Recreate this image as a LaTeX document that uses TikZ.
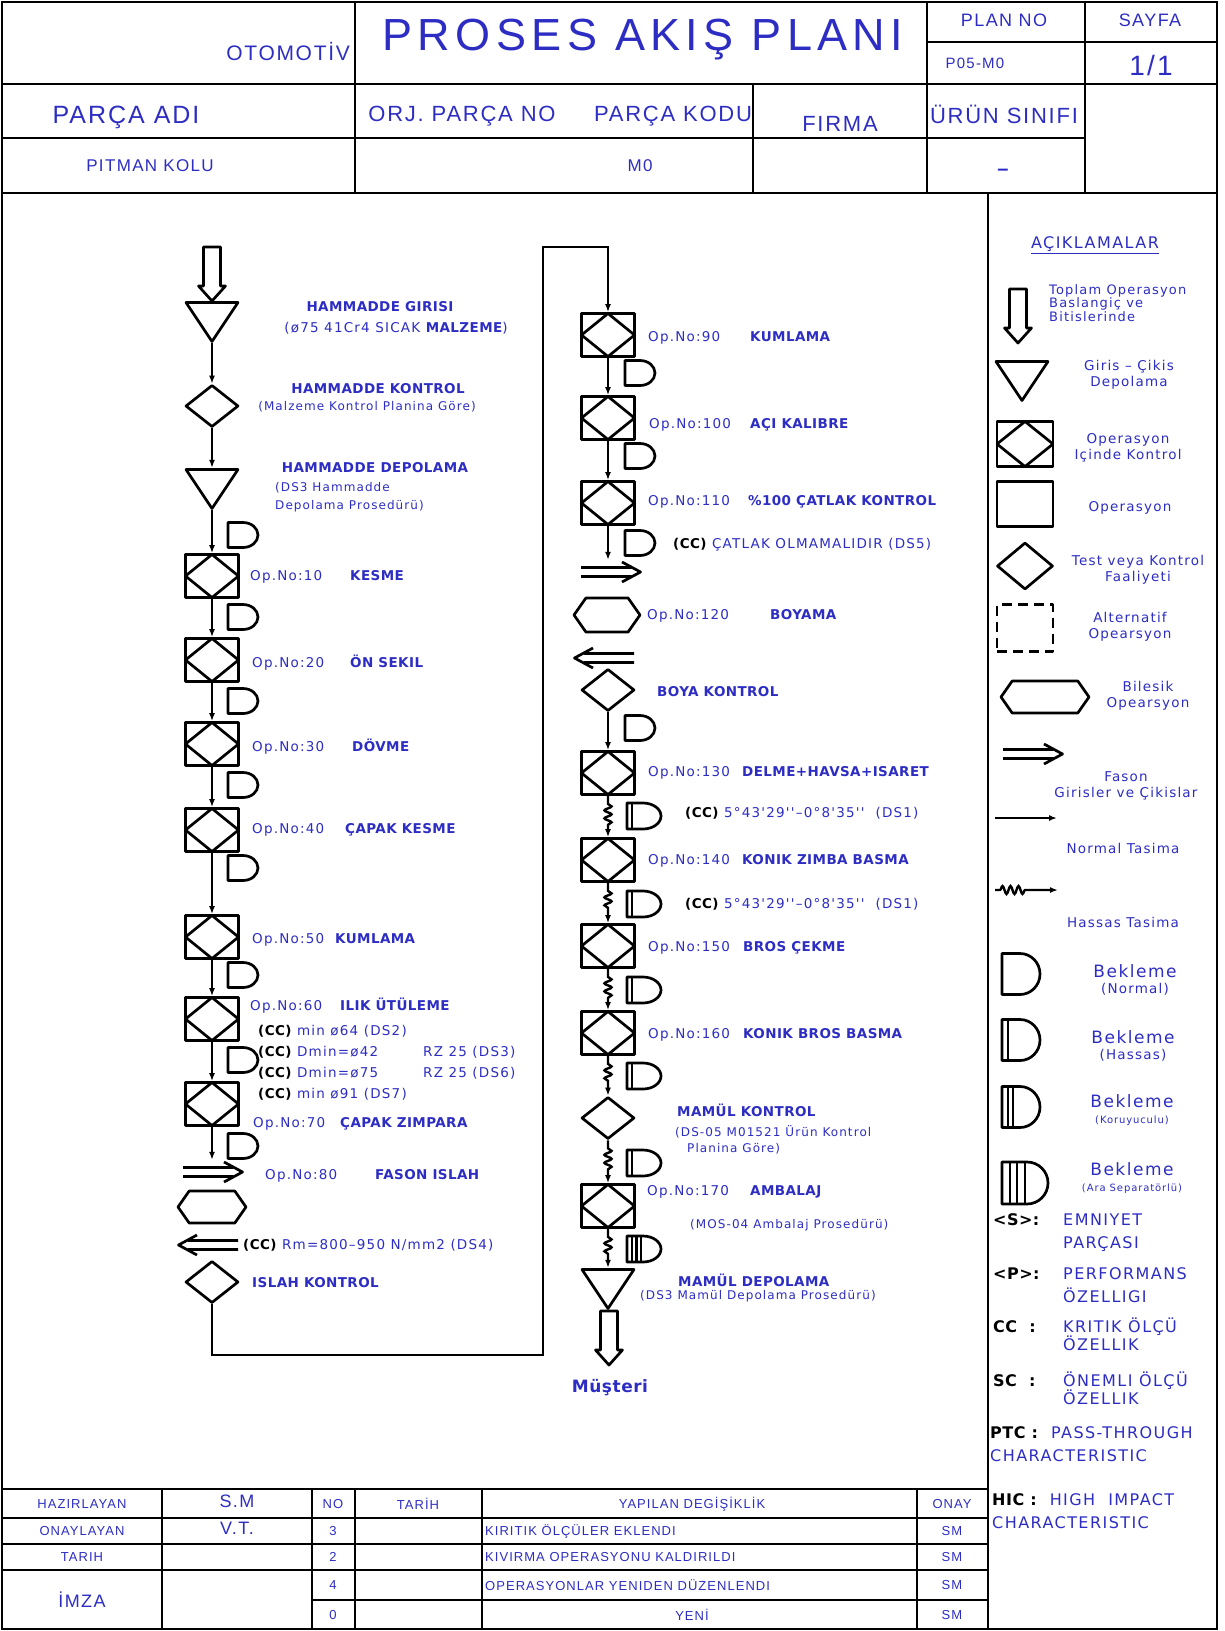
\documentclass[tikz,border=0pt]{standalone}
\usepackage{fontspec}
\setmainfont{DejaVu Sans}
\newfontfamily\cadfont[LetterSpace=9, BoldFeatures={LetterSpace=3}]{DejaVu Sans}
\newfontfamily\hdrfont[LetterSpace=8]{Liberation Sans}
\usetikzlibrary{positioning,arrows.meta,shapes.geometric,decorations.pathmorphing}
\definecolor{cadblue}{RGB}{45,45,195}
\newcommand{\fl}{\cadfont\fontsize{13.5}{16}\selectfont}
\newcommand{\fs}{\cadfont\fontsize{12}{18}\selectfont}
\newcommand{\hsz}[1]{\hdrfont\fontsize{#1}{#1}\selectfont}
\newcommand{\opno}[2]{\makebox[#1pt][l]{Op.No:#2}\bfseries}
\newcommand{\CC}{{\color{black}\bfseries(CC)}}
\newcommand{\keyw}[1]{\makebox[70pt][l]{\color{black}\bfseries #1}}

\begin{document}
\begin{tikzpicture}[x=1pt, y=1pt,
  >={Latex[length=8pt,width=6pt]},
  shp/.style={line width=2.7pt, line join=round},
  frame/.style={line width=2.4pt},
  tline/.style={line width=1.8pt},
  flow/.style={line width=2.4pt, ->},
  hassas/.style={flow, decorate, decoration={snake, amplitude=3.5pt, segment length=8pt, pre length=8pt, post length=12pt}},
  opbox/.style={draw, shp, inner sep=0, minimum width=53, minimum height=43,
    path picture={\draw[shp] (path picture bounding box.north) -- (path picture bounding box.east) -- (path picture bounding box.south) -- (path picture bounding box.west) -- cycle;}},
  ctrl/.style={diamond, draw, shp, inner sep=0, minimum width=53, minimum height=42},
  store/.style={inner sep=0, minimum width=55, minimum height=42,
    path picture={\draw[shp, shift={(path picture bounding box.center)}] (-26,19.5) -- (26,19.5) -- (0,-19.5) -- cycle;}},
  hollow/.style={inner sep=0, minimum width=30, minimum height=57,
    path picture={\draw[shp, shift={(path picture bounding box.center)}] (-8.5,27) -- (8.5,27) -- (8.5,-12) -- (13.5,-12) -- (0,-27) -- (-13.5,-12) -- (-8.5,-12) -- cycle;}},
  fason/.style={inner sep=0, minimum width=64, minimum height=24,
    path picture={\draw[shp, shift={(path picture bounding box.center)}] ({-30*#1},4.5) -- ({20*#1},4.5) ({-30*#1},-4.5) -- ({20*#1},-4.5) ({11*#1},10) -- ({29.5*#1},0) -- ({11*#1},-10);}},
  hexa/.style 2 args={inner sep=0, minimum width={2*#1+3}, minimum height={2*#2+3},
    path picture={\draw[shp, shift={(path picture bounding box.center)}] (-#1,0) -- ({-#1+0.7*#2},#2) -- ({#1-0.7*#2},#2) -- (#1,0) -- ({#1-0.7*#2},-#2) -- ({-#1+0.7*#2},-#2) -- cycle;}},
  waitsym/.style n args={4}{inner sep=0, minimum width={2*#1+3}, minimum height={2*#2+3},
    path picture={\draw[shp, shift={(path picture bounding box.center)}] (-#1,#2) -- ({#1-#3},#2) arc[start angle=90, end angle=-90, x radius=#3, y radius=#2] -- (-#1,-#2) -- cycle;
      \foreach \b in {#4} {\draw[shp, shift={(path picture bounding box.center)}] (\b,#2) -- (\b,-#2);}}},
  waitn/.style={waitsym={15}{12.5}{15}{-15}},
  waith/.style={waitsym={17}{13}{18}{-12}},
  waita/.style={waitsym={17}{13}{18}{-12,-7.5,-3}},
  lbl/.style={font=\fl, text=cadblue, inner sep=0, anchor=west},
  lblc/.style={lbl, anchor=center},
  note/.style={lbl, font=\fs, align=left},
  htxt/.style={text=cadblue, inner sep=0},
  lgt/.style={font=\cadfont\fontsize{13.5}{16}\selectfont, text=cadblue, inner sep=0, align=center},
  keyt/.style={font=\cadfont\fontsize{16}{23}\selectfont, text=cadblue, inner sep=0, align=left, anchor=west}
]
\useasboundingbox (0,0) rectangle (1224,-1631);

% frame and title block
\draw[frame] (2,-2) rectangle (1217,-1629);
\draw[frame] (2,-84) -- (1217,-84);
\draw[frame] (927,-42) -- (1217,-42);
\draw[frame] (2,-138) -- (1085,-138);
\draw[frame] (2,-193) -- (1217,-193);
\draw[frame] (355,-2) -- (355,-193);
\draw[frame] (927,-2) -- (927,-193);
\draw[frame] (1085,-2) -- (1085,-193);
\draw[frame] (753,-84) -- (753,-193);
\draw[frame] (988,-193) -- (988,-1629);

\node[htxt, anchor=east] (hoto) at (350,-51) {\hsz{21}OTOMOTİV};
\node[htxt] (htitle) at (643,-40) {\hsz{45}\addfontfeature{LetterSpace=12}PROSES AKIŞ PLANI};
\node[htxt] (hplan) at (1004,-20) {\hsz{18}PLAN NO};
\node[htxt] (hsayfa) at (1150,-20) {\hsz{18}SAYFA};
\node[htxt] (hplanno) at (975,-63) {\hsz{15}P05-M0};
\node[htxt] (hpage) at (1151,-65) {\hsz{28}1/1};
\node[htxt] (hparca) at (126,-117) {\hsz{25}PARÇA ADI};
\node[htxt] (horj) at (462,-116) {\hsz{22}ORJ. PARÇA NO};
\node[htxt] (hkod) at (673,-116) {\hsz{22}PARÇA KODU};
\node[htxt] (hfirma) at (840,-124) {\hsz{22}FIRMA};
\node[htxt] (hsinif) at (1004,-114) {\hsz{22}ÜRÜN SINIFI};
\node[htxt] (hname) at (150,-166) {\hsz{17}PITMAN KOLU};
\node[htxt] (hcode) at (640,-166) {\hsz{17}M0};
\node[htxt] (hclass) at (1003,-172) {\hsz{20}\bfseries –};

% left column
\node[hollow] (start) at (212,-274) {};
\node[store] (in1) at (212,-322) {};
\node[ctrl] (qc1) at (212,-406) {};
\node[store] (st1) at (212,-489) {};
\node[waitn] (w0) at (243,-535) {};
\node[opbox] (op10) at (212,-576) {};
\node[waitn] (w10) at (243,-617) {};
\node[opbox] (op20) at (212,-660) {};
\node[waitn] (w20) at (243,-701) {};
\node[opbox] (op30) at (212,-744) {};
\node[waitn] (w30) at (243,-785) {};
\node[opbox] (op40) at (212,-830) {};
\node[waitn] (w40) at (243,-868) {};
\node[opbox] (op50) at (212,-937) {};
\node[waitn] (w50) at (243,-975) {};
\node[opbox] (op60) at (212,-1019) {};
\node[waitn] (w60) at (243,-1060) {};
\node[opbox] (op70) at (212,-1104) {};
\node[waitn] (w70) at (243,-1146) {};
\node[fason=1] (fs1) at (213,-1172) {};
\node[hexa={34}{16}] (hx1) at (212,-1207) {};
\node[fason=-1] (fs2) at (208,-1245) {};
\node[ctrl] (qc2) at (212,-1282) {};

\draw[flow] (in1.south) -- (qc1.north);
\draw[flow] (qc1.south) -- (st1.north);
\draw[flow] (st1.south) -- (op10.north);
\draw[flow] (op10) -- (op20);
\draw[flow] (op20) -- (op30);
\draw[flow] (op30) -- (op40);
\draw[flow] (op40) -- (op50);
\draw[flow] (op50) -- (op60);
\draw[flow] (op60) -- (op70);
\draw[flow] (op70.south) -- (op70.south |- fs1.north);

\node[lblc, font=\fl\bfseries] (l1a) at (380,-307) {HAMMADDE GIRISI};
\node[lblc] (l1b) at (396,-328) {(ø75 41Cr4 SICAK {\bfseries MALZEME})};
\node[lblc, font=\fl\bfseries] (l2a) at (378,-389) {HAMMADDE KONTROL};
\node[lblc, font=\fs] (l2b) at (367,-407) {(Malzeme Kontrol Planina Göre)};
\node[lblc, font=\fl\bfseries] (l3a) at (375,-468) {HAMMADDE DEPOLAMA};
\node[note] (l3b) at (275,-497) {(DS3 Hammadde\\Depolama Prosedürü)};
\node[lbl] (t10) at (250,-577) {\opno{100}{10}KESME};
\node[lbl] (t20) at (252,-663) {\opno{98}{20}ÖN SEKIL};
\node[lbl] (t30) at (252,-747) {\opno{100}{30}DÖVME};
\node[lbl] (t40) at (252,-830) {\opno{93}{40}ÇAPAK KESME};
\node[lbl] (t50) at (252,-940) {\opno{83}{50}KUMLAMA};
\node[lbl] (t60) at (250,-1006) {\opno{90}{60}ILIK ÜTÜLEME};
\node[lbl, align=left, font=\cadfont\fontsize{13.5}{21}\selectfont] (c60) at (258,-1063) {\CC{} min ø64 (DS2)\\
  \makebox[165pt][l]{\CC{} Dmin=ø42}RZ 25 (DS3)\\
  \makebox[165pt][l]{\CC{} Dmin=ø75}RZ 25 (DS6)\\
  \CC{} min ø91 (DS7)};
\node[lbl] (t70) at (253,-1124) {\opno{87}{70}ÇAPAK ZIMPARA};
\node[lbl] (t80) at (265,-1176) {\opno{110}{80}FASON ISLAH};
\node[lbl] (c80) at (243,-1245) {\CC{} Rm=800–950 N/mm2 (DS4)};
\node[lbl, font=\fl\bfseries] (t85) at (252,-1283) {ISLAH KONTROL};

% middle column
\node[opbox] (op90) at (608,-335) {};
\node[waitn] (w90) at (640,-373) {};
\node[opbox] (op100) at (608,-418) {};
\node[waitn] (w100) at (640,-456) {};
\node[opbox] (op110) at (608,-503) {};
\node[waitn] (w110) at (640,-543) {};
\node[fason=1] (fs3) at (611,-572) {};
\node[hexa={33}{17}] (hx2) at (607,-615) {};
\node[fason=-1] (fs4) at (604,-658) {};
\node[ctrl] (qc3) at (608,-690) {};
\node[waitn] (w120) at (640,-728) {};
\node[opbox] (op130) at (608,-773) {};
\node[waith] (w130) at (644,-816) {};
\node[opbox] (op140) at (608,-860) {};
\node[waith] (w140) at (644,-904) {};
\node[opbox] (op150) at (608,-946) {};
\node[waith] (w150) at (644,-990) {};
\node[opbox] (op160) at (608,-1033) {};
\node[waith] (w160) at (644,-1076) {};
\node[ctrl] (qc4) at (608,-1118) {};
\node[waith] (w165) at (644,-1163) {};
\node[opbox] (op170) at (608,-1206) {};
\node[waita] (w170) at (644,-1249) {};
\node[store] (st2) at (608,-1289) {};
\node[hollow] (finish) at (609,-1338) {};
\node[text=cadblue, font=\cadfont\bfseries\fontsize{17}{17}\selectfont] (cust) at (610,-1388) {Müşteri};

% transfer to second column
\coordinate (lowturn) at (543,-1355);
\coordinate (highturn) at (543,-247);
\draw[flow] (qc2.south) |- (lowturn) -- (highturn) -| (op90.north);

\draw[flow] (op90) -- (op100);
\draw[flow] (op100) -- (op110);
\draw[flow] (op110.south) -- (op110.south |- fs3.north);
\draw[flow] (qc3.south) -- (op130.north);
\draw[hassas] (op130) -- (op140);
\draw[hassas] (op140) -- (op150);
\draw[hassas] (op150) -- (op160);
\draw[hassas] (op160.south) -- (qc4.north);
\draw[hassas] (qc4.south) -- (op170.north);
\draw[hassas] (op170.south) -- (st2.north);

\node[lbl] (t90) at (648,-338) {\opno{102}{90}KUMLAMA};
\node[lbl] (t100) at (649,-425) {\opno{101}{100}AÇI KALIBRE};
\node[lbl] (t110) at (648,-502) {\opno{100}{110}\%100 ÇATLAK KONTROL};
\node[lbl] (c110) at (673,-545) {\CC{} ÇATLAK OLMAMALIDIR (DS5)};
\node[lbl] (t120) at (647,-616) {\opno{123}{120}BOYAMA};
\node[lbl, font=\fl\bfseries] (t125) at (657,-692) {BOYA KONTROL};
\node[lbl] (t130) at (648,-773) {\opno{94}{130}DELME+HAVSA+ISARET};
\node[lbl] (c130) at (685,-813) {\CC{} 5°43'29''–0°8'35''\ \ (DS1)};
\node[lbl] (t140) at (648,-861) {\opno{94}{140}KONIK ZIMBA BASMA};
\node[lbl] (c140) at (685,-904) {\CC{} 5°43'29''–0°8'35''\ \ (DS1)};
\node[lbl] (t150) at (648,-948) {\opno{95}{150}BROS ÇEKME};
\node[lbl] (t160) at (648,-1035) {\opno{95}{160}KONIK BROS BASMA};
\node[lbl, font=\fl\bfseries] (t165) at (677,-1110) {MAMÜL KONTROL};
\node[note, font=\cadfont\fontsize{12}{16}\selectfont] (n165) at (675,-1140) {(DS-05 M01521 Ürün Kontrol\\\hspace*{12pt}Planina Göre)};
\node[lbl] (t170) at (647,-1192) {\opno{103}{170}AMBALAJ};
\node[lbl, font=\fs] (n170) at (690,-1225) {(MOS-04 Ambalaj Prosedürü)};
\node[lbl, font=\fl\bfseries] (t175) at (678,-1280) {MAMÜL DEPOLAMA};
\node[lbl, font=\fs] (n175) at (640,-1296) {(DS3 Mamül Depolama Prosedürü)};

% legend
\node[text=cadblue, font=\cadfont\fontsize{16}{16}\selectfont] (lgtitle) at (1095,-245) {\underline{AÇIKLAMALAR}};
\node[hollow] (lg1) at (1018,-316) {};
\node[lgt, align=left, anchor=west, font=\cadfont\fontsize{13}{12.5}\selectfont] (lg1t) at (1049,-303) {Toplam Operasyon\\Baslangiç ve\\Bitislerinde};
\node[store, minimum width=57, minimum height=45] (lg2) at (1022,-381) {};
\node[lgt] (lg2t) at (1129,-375) {Giris – Çikis\\Depolama};
\node[opbox, minimum width=56, minimum height=45] (lg3) at (1025,-444) {};
\node[lgt] (lg3t) at (1128,-448) {Operasyon\\Içinde Kontrol};
\node[draw, shp, minimum width=56, minimum height=45] (lg4) at (1025,-504) {};
\node[lgt] (lg4t) at (1130,-508) {Operasyon};
\node[ctrl, minimum width=56, minimum height=47] (lg5) at (1025,-566) {};
\node[lgt] (lg5t) at (1138,-570) {Test veya Kontrol\\Faaliyeti};
\node[draw, shp, dash pattern=on 10pt off 6pt, minimum width=56, minimum height=47] (lg6) at (1025,-628) {};
\node[lgt] (lg6t) at (1130,-627) {Alternatif\\Opearsyon};
\node[hexa={44}{16}] (lg7) at (1045,-697) {};
\node[lgt] (lg7t) at (1148,-696) {Bilesik\\Opearsyon};
\node[fason=1] (lg8) at (1033,-754) {};
\node[lgt] (lg8t) at (1126,-786) {Fason\\Girisler ve Çikislar};
\coordinate (nt1) at (995,-818);
\coordinate (nt2) at (1057,-818);
\draw[flow] (nt1) -- (nt2);
\node[lgt] (lg9t) at (1123,-848) {Normal Tasima};
\coordinate (ht1) at (995,-890);
\coordinate (ht2) at (1058,-890);
\draw[hassas, decoration={pre length=5pt, post length=32pt, amplitude=4pt}] (ht1) -- (ht2);
\node[lgt] (lg10t) at (1123,-922) {Hassas Tasima};
\node[waitsym={19}{20.5}{20}{-19}] (lg11) at (1021,-974) {};
\node[lgt] (lg11t) at (1135,-980) {{\fontsize{17}{20}\selectfont Bekleme}\\(Normal)};
\node[waitsym={19}{20.5}{20}{-13}] (lg12) at (1021,-1040) {};
\node[lgt] (lg12t) at (1133,-1046) {{\fontsize{17}{20}\selectfont Bekleme}\\(Hassas)};
\node[waitsym={19}{20.5}{20}{-13,-8}] (lg13) at (1021,-1107) {};
\node[lgt] (lg13t) at (1132,-1110) {{\fontsize{17}{20}\selectfont Bekleme}\\{\fontsize{10}{13}\selectfont(Koruyuculu)}};
\node[waitsym={23}{21}{21}{-15,-8,0}] (lg14) at (1025,-1183) {};
\node[lgt] (lg14t) at (1132,-1178) {{\fontsize{17}{20}\selectfont Bekleme}\\{\fontsize{10}{13}\selectfont(Ara Separatörlü)}};
\node[keyt] (ks) at (993,-1233) {\keyw{<S>:}EMNIYET\\\hspace*{70pt}PARÇASI};
\node[keyt] (kp) at (993,-1285) {\keyw{<P>:}PERFORMANS\\\hspace*{70pt}ÖZELLIGI};
\node[keyt, font=\cadfont\fontsize{16}{18}\selectfont] (kcc) at (993,-1334) {\keyw{CC\ \ :}KRITIK ÖLÇÜ\\\hspace*{70pt}ÖZELLIK};
\node[keyt, font=\cadfont\fontsize{16}{18}\selectfont] (ksc) at (993,-1388) {\keyw{SC\ \ :}ÖNEMLI ÖLÇÜ\\\hspace*{70pt}ÖZELLIK};
\node[keyt] (kptc) at (990,-1444) {{\color{black}\bfseries PTC :}\ \ PASS-THROUGH\\CHARACTERISTIC};
\node[keyt] (khic) at (992,-1511) {{\color{black}\bfseries HIC :}\ \ HIGH\ \ IMPACT\\CHARACTERISTIC};

% revision table
\draw[frame] (2,-1489) -- (988,-1489);
\foreach \yy in {1518,1544,1570} \draw[tline] (2,-\yy) -- (988,-\yy);
\draw[tline] (312,-1600) -- (988,-1600);
\foreach \xx in {162,312,355,482,917} \draw[tline] (\xx,-1489) -- (\xx,-1629);

\node[htxt] (r1a) at (82,-1504) {\hsz{13}HAZIRLAYAN};
\node[htxt] (r1b) at (237,-1501) {\hsz{18}S.M};
\node[htxt] (r1c) at (333,-1504) {\hsz{13}NO};
\node[htxt] (r1d) at (418,-1504) {\hsz{13}TARİH};
\node[htxt] (r1e) at (692,-1504) {\hsz{13}YAPILAN DEGİŞİKLİK};
\node[htxt] (r1f) at (952,-1504) {\hsz{13}ONAY};
\node[htxt] (r2a) at (82,-1531) {\hsz{13}ONAYLAYAN};
\node[htxt] (r2b) at (237,-1528) {\hsz{18}V.T.};
\node[htxt] (r2c) at (333,-1531) {\hsz{13}3};
\node[htxt, anchor=west] (r2e) at (485,-1531) {\hsz{13}KIRITIK ÖLÇÜLER EKLENDI};
\node[htxt] (r2f) at (952,-1531) {\hsz{13}SM};
\node[htxt] (r3a) at (82,-1557) {\hsz{13}TARIH};
\node[htxt] (r3c) at (333,-1557) {\hsz{13}2};
\node[htxt, anchor=west] (r3e) at (485,-1557) {\hsz{13}KIVIRMA OPERASYONU KALDIRILDI};
\node[htxt] (r3f) at (952,-1557) {\hsz{13}SM};
\node[htxt] (r4a) at (82,-1600) {\hsz{18}İMZA};
\node[htxt] (r4c) at (333,-1585) {\hsz{13}4};
\node[htxt, anchor=west] (r4e) at (485,-1585) {\hsz{13}OPERASYONLAR YENIDEN DÜZENLENDI};
\node[htxt] (r4f) at (952,-1585) {\hsz{13}SM};
\node[htxt] (r5c) at (333,-1615) {\hsz{13}0};
\node[htxt] (r5e) at (692,-1615) {\hsz{13}YENİ};
\node[htxt] (r5f) at (952,-1615) {\hsz{13}SM};
\end{tikzpicture}
\end{document}
